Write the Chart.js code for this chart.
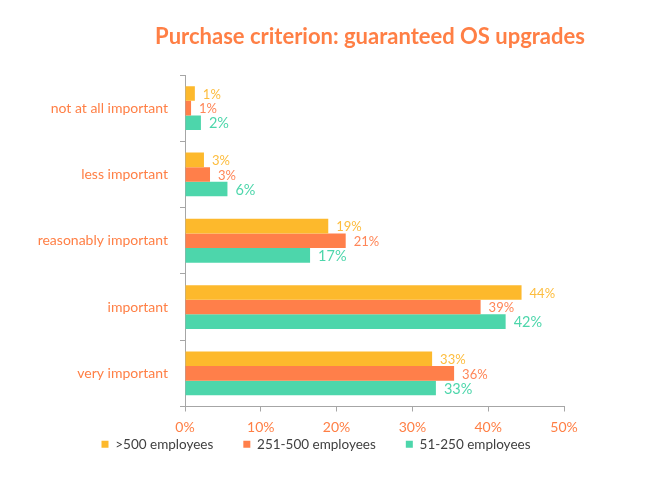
<!DOCTYPE html>
<html lang="en">
<head>
    <meta charset="UTF-8">
    <title>Purchase criterion: guaranteed OS upgrades</title>
    <style>
        body {
            margin: 0;
            background-color: #ffffff;
        }
        #wrap {
            width: 648px;
            height: 489px;
        }
    </style>
</head>
<body>
    <div id="wrap"><canvas id="chart1" width="648" height="489"></canvas></div>

    <script src="https://cdn.jsdelivr.net/npm/chart.js"></script>
    <script>
        // chart data
        var categories = ['not at all important', 'less important', 'reasonably important', 'important', 'very important'];
        var seriesNames = ['>500 employees', '251-500 employees', '51-250 employees'];
        var over500 = [1.3, 2.5, 18.9, 44.4, 32.6];
        var from251 = [0.8, 3.3, 21.2, 39.0, 35.5];
        var from51 = [2.1, 5.6, 16.5, 42.3, 33.1];
        var shownLabels = [
            ['1%', '3%', '19%', '44%', '33%'],
            ['1%', '3%', '21%', '39%', '36%'],
            ['2%', '6%', '17%', '42%', '33%']
        ];
        var xTicks = [0, 10, 20, 30, 40, 50];

        var barColors = ['#fdb92c', '#ff7f4a', '#4dd6ab'];
        var labelColors = ['#fdbd3e', '#ff8658', '#4dd6ab'];
        var labelSizes = [13, 13, 14.5];
        var orange = '#ff7f45';
        var font = 'Lato, "Open Sans", sans-serif';

        var valueLabels = {
            id: 'valueLabels',
            afterDatasetsDraw: function(chart) {
                var ctx = chart.ctx;
                ctx.save();
                ctx.textBaseline = 'middle';
                ctx.textAlign = 'left';
                chart.data.datasets.forEach(function(ds, i) {
                    var meta = chart.getDatasetMeta(i);
                    ctx.fillStyle = labelColors[i];
                    ctx.font = labelSizes[i] + 'px ' + font;
                    meta.data.forEach(function(bar, j) {
                        ctx.fillText(shownLabels[i][j], bar.x + 8, bar.y + 1);
                    });
                });
                ctx.restore();
            }
        };

        var titleText = {
            id: 'titleText',
            afterDraw: function(chart) {
                var ctx = chart.ctx;
                ctx.save();
                ctx.fillStyle = orange;
                ctx.font = 'bold 22px ' + font;
                ctx.textAlign = 'center';
                ctx.textBaseline = 'middle';
                ctx.fillText('Purchase criterion: guaranteed OS upgrades', 370, 37);
                ctx.restore();
            }
        };

        // legend in the original sits centred under the whole figure and close to the axis
        var legendShift = {
            id: 'legendShift',
            afterLayout: function(chart) {
                chart.legend.left += 34;
                chart.legend.right += 34;
                chart.legend.top -= 28;
                chart.legend.bottom -= 28;
            }
        };

        var ctx = document.getElementById('chart1').getContext('2d');
        new Chart(ctx, {
            type: 'bar',
            data: {
                labels: categories,
                datasets: [
                    { label: seriesNames[0], data: over500, backgroundColor: barColors[0] },
                    { label: seriesNames[1], data: from251, backgroundColor: barColors[1] },
                    { label: seriesNames[2], data: from51, backgroundColor: barColors[2] }
                ]
            },
            options: {
                indexAxis: 'y',
                responsive: false,
                animation: false,
                categoryPercentage: 0.66,
                barPercentage: 1.0,
                layout: {
                    padding: { top: 75, right: 84, bottom: 0, left: 0 }
                },
                scales: {
                    x: {
                        min: 0,
                        max: 50,
                        afterBuildTicks: function(scale) {
                            scale.ticks = xTicks.map(function(v) { return { value: v }; });
                        },
                        afterFit: function(scale) { scale.height = 29; },
                        grid: {
                            drawOnChartArea: false,
                            drawTicks: true,
                            tickLength: 5,
                            color: '#a6a6a6'
                        },
                        border: { color: '#a6a6a6', width: 1 },
                        ticks: {
                            color: orange,
                            font: { family: font, size: 14 },
                            padding: 8,
                            callback: function(v) { return v + '%'; }
                        }
                    },
                    y: {
                        afterFit: function(scale) { scale.width = 185; },
                        grid: {
                            offset: true,
                            drawOnChartArea: false,
                            drawTicks: true,
                            tickLength: 5,
                            color: '#a6a6a6'
                        },
                        border: { color: '#a6a6a6', width: 1 },
                        ticks: {
                            color: orange,
                            font: { family: font, size: 14 },
                            padding: 12
                        }
                    }
                },
                plugins: {
                    legend: {
                        position: 'bottom',
                        labels: {
                            boxWidth: 7,
                            boxHeight: 7,
                            color: '#404040',
                            padding: 30,
                            font: { family: font, size: 13.5 }
                        }
                    },
                    tooltip: { enabled: false }
                }
            },
            plugins: [valueLabels, titleText, legendShift]
        });
    </script>
</body>
</html>
